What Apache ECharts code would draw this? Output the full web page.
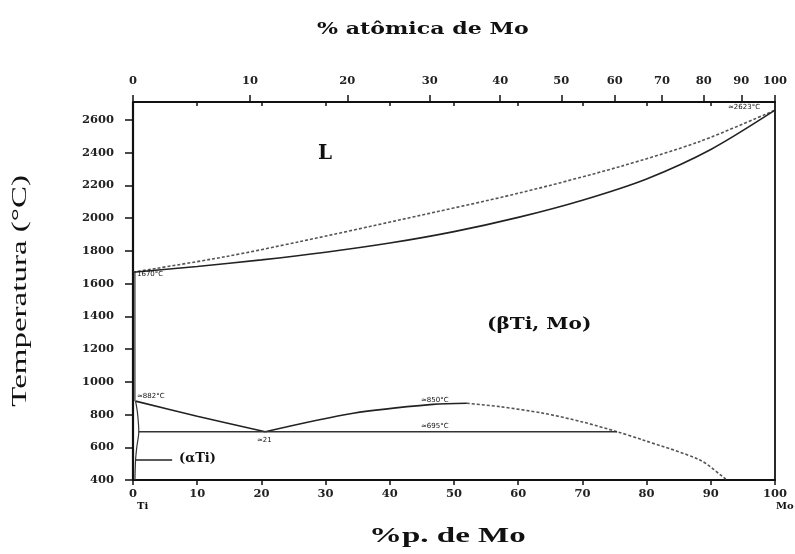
<!DOCTYPE html>
<html><head><meta charset="utf-8">
<script src="https://cdn.jsdelivr.net/npm/echarts@6/dist/echarts.min.js"></script>
<style>html,body{margin:0;padding:0;background:#fff}#c{width:795px;height:554px}</style>
</head><body><div id="c"></div>
<script>
// ---- data (wt% Mo, temperature °C) ----
const liquidusWt = [0, 14.3, 26, 41.6, 60.3, 75.9, 88.3, 100];
const liquidusT  = [1670, 1764, 1857, 1990, 2155, 2316, 2469, 2660];
const solidusWt  = [0, 10, 20, 30, 40, 50, 60, 70, 80, 90, 100];
const solidusT   = [1670, 1705, 1745, 1792, 1848, 1918, 2005, 2110, 2240, 2420, 2660];
const transusDownWt = [0.4, 10, 20.6];
const transusDownT  = [882, 790, 695];
const transusUpWt   = [20.6, 34.3, 46.7, 52];
const transusUpT    = [695, 808, 862, 869];
const gapWt      = [52, 57.2, 63.9, 70, 75.4, 79.4, 88.3, 92.2, 92.5];
const gapT       = [869, 848, 808, 755, 695, 645, 522, 410, 400];
const monoWt     = [0.9, 75.4];
const monoT      = [695, 695];
const alphaWt    = [0.4, 0.7, 0.9, 0.6, 0.4, 0.3];
const alphaT     = [882, 810, 695, 604, 522, 400];
const tiColWt    = [0.3, 0.3];
const tiColT     = [1670, 882];
const alphaPtrWt = [0.4, 6.1];
const alphaPtrT  = [522, 522];
// ---- ticks ----
const wtTicks  = [0,10,20,30,40,50,60,70,80,90,100];
const wtInner  = [10,20,30,40,50,60,70,80,90];
const atTicks  = [0,10,20,30,40,50,60,70,80,90,100];
const yTicks   = [400,600,800,1000,1200,1400,1600,1800,2000,2200,2400,2600];
const M_MO = 95.95, M_TI = 47.867;
const atPos = atTicks.map(a => 100*a*M_MO/(a*M_MO+(100-a)*M_TI));

const zip = (xs, ys) => xs.map((x,i)=>[x, ys[i]]);
const chart = echarts.init(document.getElementById('c'));
const tickFont = {color:'#222', fontFamily:'DejaVu Serif', fontSize:11.5, fontWeight:'bold'};
const solid = {color:'#222', width:1.6, type:'solid'};
const dashed = {color:'#555', width:1.6, type:[3,2]};
function line(d, style, smooth){ return {type:'line', data:d, showSymbol:false, symbol:'none', smooth:smooth||false, lineStyle:style, silent:true, animation:false, z:3}; }
const serif = 'Liberation Serif';
const lbl = (x,y,text,size,weight,family,extra) => Object.assign({type:'text', left:x, top:y, style:{text, fontSize:size, fontWeight:weight||'normal', fontFamily:family||serif, fill:'#111'}, z:10}, extra||{});

chart.setOption({
  animation:false,
  grid:{left:133, right:20, top:102, bottom:74},
  xAxis:[
    {type:'value', min:0, max:100, position:'bottom',
     axisLine:{show:true, onZero:false, lineStyle:{color:'#111', width:1.8}},
     axisTick:{show:true, length:5, customValues:wtTicks, lineStyle:{color:'#111', width:1.5}},
     axisLabel:{customValues:wtTicks, margin:8, ...tickFont, formatter:v=>String(v)},
     splitLine:{show:false}},
    {type:'value', min:0, max:100, position:'top',
     axisLine:{show:true, onZero:false, lineStyle:{color:'#111', width:1.8}},
     axisTick:{show:true, length:7, customValues:atPos, lineStyle:{color:'#111', width:1.5}},
     axisLabel:{customValues:atPos, margin:15, ...tickFont,
       formatter:v=>{const i=atPos.findIndex(p=>Math.abs(p-v)<1e-6); return i<0?'':String(atTicks[i]);}},
     splitLine:{show:false}},
    {type:'value', min:0, max:100, position:'top', gridIndex:0,
     axisLine:{show:false},
     axisTick:{show:true, inside:true, length:4, customValues:wtInner, lineStyle:{color:'#111', width:1.5}},
     axisLabel:{show:false}, splitLine:{show:false}}
  ],
  yAxis:[
    {type:'value', min:400, max:2710, interval:200, position:'left',
     axisLine:{show:true, onZero:false, lineStyle:{color:'#111', width:2.2}},
     axisTick:{show:true, length:8, customValues:yTicks, lineStyle:{color:'#111', width:1.5}},
     axisLabel:{customValues:yTicks, margin:19, ...tickFont, formatter:v=>String(v)},
     splitLine:{show:false}},
    {type:'value', min:400, max:2710, position:'right',
     axisLine:{show:true, onZero:false, lineStyle:{color:'#111', width:1.8}},
     axisTick:{show:false}, axisLabel:{show:false}, splitLine:{show:false}}
  ],
  series:[
    line(zip(liquidusWt, liquidusT), dashed, 0.3),
    line(zip(solidusWt, solidusT), solid, 0.3),
    line(zip(transusDownWt, transusDownT), solid, 0.3),
    line(zip(transusUpWt, transusUpT), solid, 0.3),
    line(zip(gapWt, gapT), dashed, 0.3),
    line(zip(monoWt, monoT), {color:'#333', width:1.4}),
    line(zip(alphaWt, alphaT), {color:'#333', width:1.2}, 0.3),
    line(zip(tiColWt, tiColT), {color:'#333', width:1.2}),
    line(zip(alphaPtrWt, alphaPtrT), {color:'#222', width:1.6})
  ],
  graphic:[
    lbl(317, 21, '% atômica de Mo', 17, 'bold', 'DejaVu Serif', {scaleX:1.3}),
    lbl(369, 525, '%p. de Mo', 22, 'bold', serif, {scaleX:1.5}),
    {type:'text', left:9, top:175, rotation:Math.PI/2, scaleX:1.5, style:{text:'Temperatura (°C)', fontSize:22, fontFamily:serif, fill:'#111'}, z:10},
    lbl(318, 144, 'L', 20, 'bold', 'DejaVu Serif'),
    lbl(487, 316, '(βTi, Mo)', 17, 'bold', 'DejaVu Serif', {scaleX:1.18}),
    lbl(179, 452, '(αTi)', 13, 'bold', 'DejaVu Serif'),
    lbl(137, 501, 'Ti', 10, 'bold', 'DejaVu Serif'),
    lbl(776, 501, 'Mo', 10, 'bold', 'DejaVu Serif'),
    lbl(137, 271, '1670°C', 7, 'normal', 'DejaVu Sans'),
    lbl(137, 393, '≈882°C', 7, 'normal', 'DejaVu Sans'),
    lbl(421, 397, '≈850°C', 7, 'normal', 'DejaVu Sans'),
    lbl(421, 423, '≈695°C', 7, 'normal', 'DejaVu Sans'),
    lbl(257, 437, '≈21', 7, 'normal', 'DejaVu Sans'),
    lbl(728, 104, '≈2623°C', 7, 'normal', 'DejaVu Sans')
  ]
});
</script></body></html>
